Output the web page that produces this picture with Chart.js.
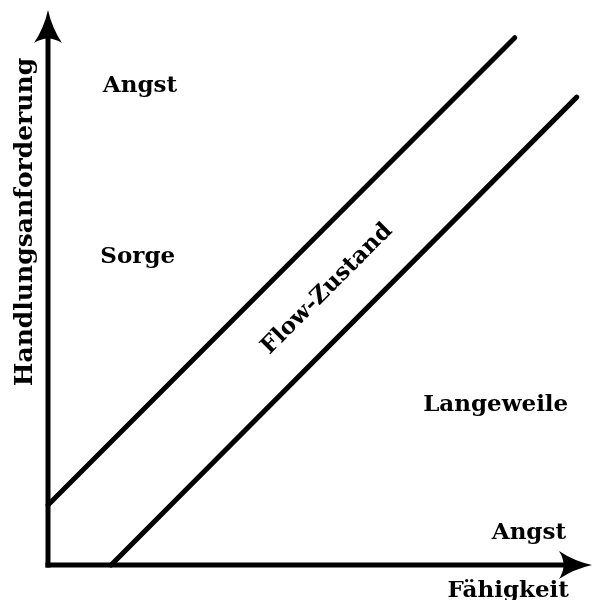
<!DOCTYPE html>
<html>
<head>
<meta charset="utf-8">
<script src="https://cdn.jsdelivr.net/npm/chart.js@4"></script>
<style>
  html, body { margin: 0; padding: 0; background: #fff; }
  #wrap { width: 594px; height: 600px; }
</style>
</head>
<body>
<div id="wrap"><canvas id="flowChart"></canvas></div>
<script>
// axis range (arbitrary units)
const xMax = 10
const yMax = 10

// the two diagonal borders of the flow channel
const upperLine = [{x: 0, y: 1.08}, {x: 8.58, y: 9.5}]
const lowerLine = [{x: 1.16, y: 0}, {x: 9.72, y: 8.43}]

// region labels, anchored in data units
const labelTexts = ['Angst', 'Sorge', 'Flow-Zustand', 'Langeweile', 'Angst']
const labelX = [1.69, 1.65, 5.13, 8.23, 8.84]
const labelY = [8.63, 5.55, 4.97, 2.88, 0.58]
const labelAngle = [0, 0, -45, 0, 0]

const xTitle = 'Fähigkeit'
const yTitle = 'Handlungsanforderung'

// draws arrow heads and all the text on top of the lines
const diagramPlugin = {
  id: 'diagram',
  afterDatasetsDraw(chart) {
    let ctx = chart.ctx
    let xs = chart.scales.x, ys = chart.scales.y
    let ox = xs.getPixelForValue(0), oy = ys.getPixelForValue(0)
    let tx = xs.getPixelForValue(xMax), ty = ys.getPixelForValue(yMax)

    ctx.save()
    ctx.fillStyle = '#000'
    // y arrow
    ctx.beginPath()
    ctx.moveTo(ox, ty)
    ctx.quadraticCurveTo(ox - 4, ty + 18, ox - 14, ty + 33)
    ctx.quadraticCurveTo(ox, ty + 24, ox + 14, ty + 33)
    ctx.quadraticCurveTo(ox + 4, ty + 18, ox, ty)
    ctx.fill()
    // x arrow
    ctx.beginPath()
    ctx.moveTo(tx, oy)
    ctx.quadraticCurveTo(tx - 18, oy - 4, tx - 33, oy - 14)
    ctx.quadraticCurveTo(tx - 24, oy, tx - 33, oy + 14)
    ctx.quadraticCurveTo(tx - 18, oy + 4, tx, oy)
    ctx.fill()

    ctx.textAlign = 'center'
    ctx.textBaseline = 'middle'
    ctx.font = 'bold 23px "DejaVu Serif"'
    labelTexts.forEach((t, i) => {
      ctx.save()
      ctx.translate(xs.getPixelForValue(labelX[i]), ys.getPixelForValue(labelY[i]))
      ctx.rotate(labelAngle[i] * Math.PI / 180)
      ctx.fillText(t, 0, 0)
      ctx.restore()
    })

    // axis titles
    ctx.fillText(xTitle, xs.getPixelForValue(8.46), oy + 26)
    ctx.save()
    ctx.font = '600 25px "DejaVu Serif"'
    ctx.translate(ox - 23, ys.getPixelForValue(6.18))
    ctx.rotate(-Math.PI / 2)
    ctx.fillText(yTitle, 0, 0)
    ctx.restore()
    ctx.restore()
  }
}

let ctx = document.getElementById('flowChart')
let flowChart = new Chart(ctx, {
  type: 'scatter',
  data: {
    datasets: [
      { data: [{x: 0, y: 0}, {x: 0, y: yMax - 0.3}], borderColor: '#000', borderWidth: 5, showLine: true, pointRadius: 0, clip: false, borderCapStyle: 'square' },
      { data: [{x: 0, y: 0}, {x: xMax - 0.3, y: 0}], borderColor: '#000', borderWidth: 5, showLine: true, pointRadius: 0, clip: false, borderCapStyle: 'square' },
      { data: upperLine, borderColor: '#000', borderWidth: 5, showLine: true, pointRadius: 0, clip: false, borderCapStyle: 'round' },
      { data: lowerLine, borderColor: '#000', borderWidth: 5, showLine: true, pointRadius: 0, clip: false, borderCapStyle: 'round' }
    ]
  },
  options: {
    responsive: true,
    maintainAspectRatio: false,
    animation: false,
    layout: { padding: { left: 48, right: 2, top: 10, bottom: 35 } },
    plugins: { legend: { display: false }, tooltip: { enabled: false } },
    scales: {
      x: { type: 'linear', min: 0, max: xMax, display: false },
      y: { type: 'linear', min: 0, max: yMax, display: false }
    }
  },
  plugins: [diagramPlugin]
})
</script>
</body>
</html>
